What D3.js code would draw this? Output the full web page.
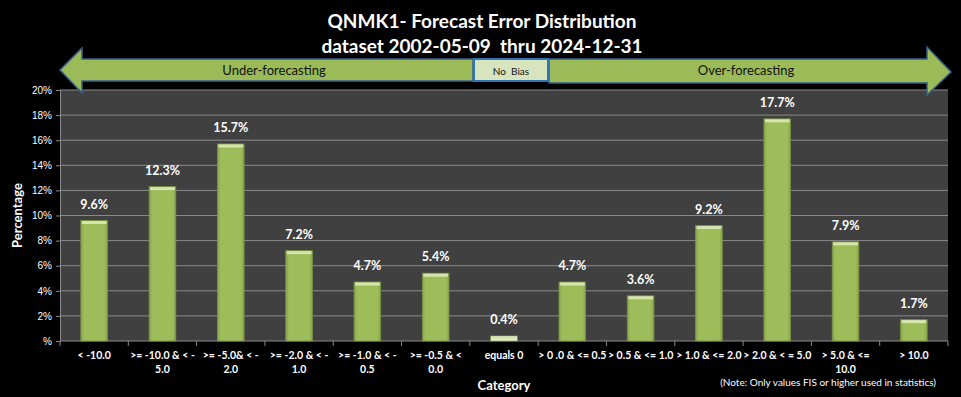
<!DOCTYPE html>
<html>
<head>
<meta charset="utf-8">
<script src="https://cdn.jsdelivr.net/npm/d3@7"></script>
<style>
  body { margin: 0; background: #000; }
  svg { display: block; font-family: Lato, 'Noto Sans', sans-serif; }
  text { white-space: pre; }
</style>
</head>
<body>
<svg id="chart" width="961" height="397"></svg>
<script>
const categories = [
  ['< -10.0'],
  ['>= -10.0 & < -', '5.0'],
  ['>= -5.0& < -', '2.0'],
  ['>= -2.0 & < -', '1.0'],
  ['>= -1.0 & < -', '0.5'],
  ['>= -0.5 & <', '0.0'],
  ['equals 0'],
  ['> 0 .0 & <= 0.5'],
  ['> 0.5 & <= 1.0'],
  ['> 1.0 & <= 2.0'],
  ['> 2.0 & < = 5.0'],
  ['> 5.0 & <=', '10.0'],
  ['> 10.0'],
];
const percents = [9.6, 12.3, 15.7, 7.2, 4.7, 5.4, 0.4, 4.7, 3.6, 9.2, 17.7, 7.9, 1.7];
const yTicks = [0, 2, 4, 6, 8, 10, 12, 14, 16, 18, 20];
const titleLines = ['QNMK1- Forecast Error Distribution', 'dataset 2002-05-09  thru 2024-12-31'];

const width = 961;
const height = 397;
const margin = { top: 90, right: 13, bottom: 56, left: 60 };
const innerWidth = width - margin.left - margin.right;
const innerHeight = height - margin.top - margin.bottom;

const svg = d3.select('#chart');

const defs = svg.append('defs');
const grad = defs.append('linearGradient').attr('id', 'barGrad')
  .attr('x1', 0).attr('x2', 1).attr('y1', 0).attr('y2', 0);
grad.append('stop').attr('offset', '0%').attr('stop-color', '#86a34a');
grad.append('stop').attr('offset', '12%').attr('stop-color', '#9dbd5b');
grad.append('stop').attr('offset', '88%').attr('stop-color', '#9dbd5b');
grad.append('stop').attr('offset', '100%').attr('stop-color', '#86a34a');

// title
svg.selectAll('.title')
  .data(titleLines)
  .join('text')
  .attr('class', 'title')
  .attr('x', 482)
  .attr('y', (d, i) => 28 + i * 25)
  .attr('text-anchor', 'middle')
  .attr('fill', '#fff')
  .style('font-weight', 'bold')
  .style('font-size', '19px')
  .text(d => d);

const xScale = d3.scaleBand()
  .domain(d3.range(categories.length))
  .range([0, innerWidth])
  .paddingInner(0.61)
  .paddingOuter(0.305);

const yScale = d3.scaleLinear()
  .domain([0, 20])
  .range([innerHeight, 0]);

const g = svg.append('g')
  .attr('transform', `translate(${margin.left},${margin.top})`);

g.append('rect')
  .attr('width', innerWidth)
  .attr('height', innerHeight)
  .attr('fill', '#404040');

// gridlines
g.selectAll('.grid')
  .data(yTicks.slice(1))
  .join('line')
  .attr('class', 'grid')
  .attr('x1', 0)
  .attr('x2', innerWidth)
  .attr('y1', d => yScale(d))
  .attr('y2', d => yScale(d))
  .attr('stroke', '#8a8a8a')
  .attr('stroke-width', 1);

// y axis
const yAxis = g.append('g')
  .call(d3.axisLeft(yScale)
    .tickValues(yTicks)
    .tickSize(4)
    .tickFormat(d => (d === 0 ? '' : d) + '%'));
yAxis.select('.domain').attr('stroke', '#8a8a8a');
yAxis.selectAll('.tick line').attr('stroke', '#8a8a8a');
yAxis.selectAll('.tick text')
  .attr('fill', '#fff')
  .attr('x', -8)
  .style('font-size', '10px')
  .style('font-family', "'Liberation Sans', sans-serif");

// x axis with ticks between categories
const xAxisG = g.append('g').attr('transform', `translate(0,${innerHeight})`);
xAxisG.append('line')
  .attr('x1', 0).attr('x2', innerWidth)
  .attr('stroke', '#8a8a8a');
const step = xScale.step();
xAxisG.selectAll('.xtick')
  .data(d3.range(categories.length + 1))
  .join('line')
  .attr('class', 'xtick')
  .attr('x1', d => xScale(0) - xScale.paddingOuter() * step + d * step)
  .attr('x2', d => xScale(0) - xScale.paddingOuter() * step + d * step)
  .attr('y1', 0).attr('y2', 5)
  .attr('stroke', '#8a8a8a');

xAxisG.selectAll('.xlabel')
  .data(categories)
  .join('text')
  .attr('class', 'xlabel')
  .attr('text-anchor', 'middle')
  .attr('fill', '#fff')
  .style('font-size', '10.5px')
  .style('font-weight', 'bold')
  .attr('transform', (d, i) => `translate(${xScale(i) + xScale.bandwidth() / 2},18)`)
  .selectAll('tspan')
  .data(d => d)
  .join('tspan')
  .attr('x', 0)
  .attr('y', (d, i) => i * 14)
  .text(d => d);

// bars
const bars = g.selectAll('.bar')
  .data(percents)
  .join('g')
  .attr('class', 'bar');

bars.append('rect')
  .attr('x', (d, i) => xScale(i))
  .attr('y', d => yScale(d))
  .attr('width', xScale.bandwidth())
  .attr('height', d => innerHeight - yScale(d))
  .attr('fill', (d, i) => categories[i][0] === 'equals 0' ? '#f2f6ea' : 'url(#barGrad)')
  .attr('stroke', '#7a9440')
  .attr('stroke-width', 0.8);

bars.append('rect')
  .attr('x', (d, i) => xScale(i) + 1)
  .attr('y', d => yScale(d) + 0.5)
  .attr('width', xScale.bandwidth() - 2)
  .attr('height', d => Math.min(3, innerHeight - yScale(d) - 1))
  .attr('fill', '#d6e5b0');

bars.append('text')
  .attr('x', (d, i) => xScale(i) + xScale.bandwidth() / 2)
  .attr('y', d => yScale(d) - 12)
  .attr('text-anchor', 'middle')
  .attr('fill', '#fff')
  .style('font-weight', 'bold')
  .style('font-size', '12.5px')
  .text(d => d.toFixed(1) + '%');

// axis titles
svg.append('text')
  .attr('transform', `translate(22,${margin.top + innerHeight / 2}) rotate(-90)`)
  .attr('text-anchor', 'middle')
  .attr('fill', '#fff')
  .style('font-weight', 'bold')
  .style('font-size', '13px')
  .text('Percentage');

svg.append('text')
  .attr('x', 504)
  .attr('y', 390)
  .attr('text-anchor', 'middle')
  .attr('fill', '#fff')
  .style('font-weight', 'bold')
  .style('font-size', '13px')
  .text('Category');

svg.append('text')
  .attr('x', 936)
  .attr('y', 386)
  .attr('text-anchor', 'end')
  .attr('fill', '#fff')
  .style('font-size', '10px')
  .text('(Note: Only values FIS or higher used in statistics)');

// bias arrows
const arrowStroke = '#3a5f8a';
const leftArrow = [[60, 70], [82, 48], [82, 59], [473, 59], [473, 81], [82, 81], [82, 93]];
const rightArrow = [[549, 59], [927, 59], [927, 47], [951, 72], [927, 95], [927, 83], [549, 83]];
svg.append('path')
  .attr('d', d3.line()(leftArrow) + 'Z')
  .attr('fill', '#9bbb59')
  .attr('stroke', arrowStroke)
  .attr('stroke-width', 1.5);
svg.append('path')
  .attr('d', d3.line()(rightArrow) + 'Z')
  .attr('fill', '#9bbb59')
  .attr('stroke', arrowStroke)
  .attr('stroke-width', 1.5);
svg.append('rect')
  .attr('x', 474).attr('y', 59)
  .attr('width', 74).attr('height', 22)
  .attr('fill', '#d7e4bd')
  .attr('stroke', '#2e75b6')
  .attr('stroke-width', 2);

const arrowLabels = [
  { text: 'Under-forecasting', x: 274, size: '13px' },
  { text: 'No  Bias', x: 511, size: '10px' },
  { text: 'Over-forecasting', x: 746, size: '13px' },
];
svg.selectAll('.arrow-label')
  .data(arrowLabels)
  .join('text')
  .attr('class', 'arrow-label')
  .attr('x', d => d.x)
  .attr('y', 75)
  .attr('text-anchor', 'middle')
  .attr('fill', '#111')
  .style('font-size', d => d.size)
  .text(d => d.text);
</script>
</body>
</html>
